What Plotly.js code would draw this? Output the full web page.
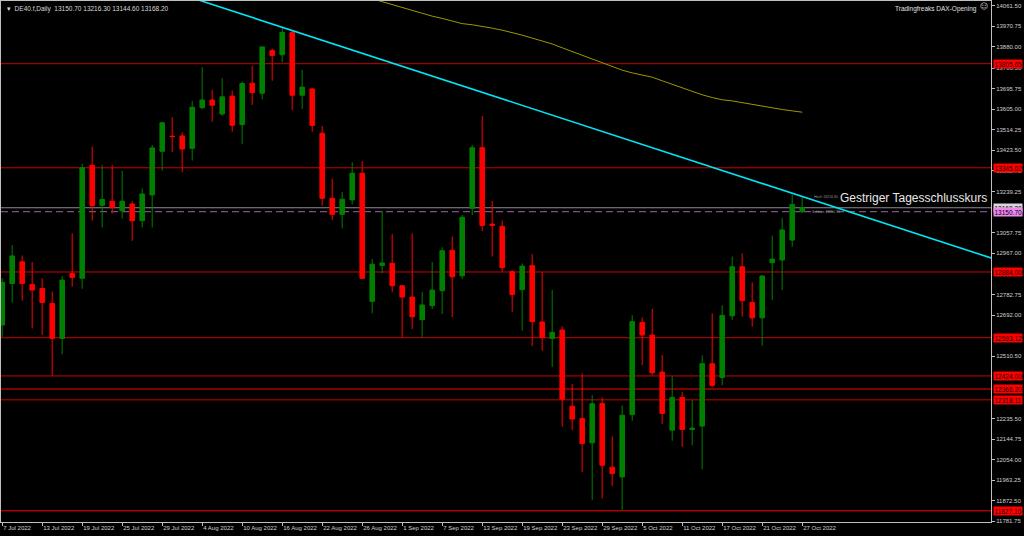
<!DOCTYPE html>
<html>
<head>
<meta charset="utf-8">
<script src="https://cdn.plot.ly/plotly-3.0.1.min.js"></script>
<style>html,body{margin:0;padding:0;background:#000;}#chart{width:1024px;height:536px;}</style>
</head>
<body>
<div id="chart"></div>
<script>
// ---- data (DE40.f, Daily) ----
const barIndex = Array.from({length: 81}, (_, i) => i);
const openP  = [12649,12833,12929,12829,12811,12745,12590,12878,12856,13356,13179,13197,13155,13185,13111,13225,13418,13485,13486,13431,13611,13645,13583,13662,13536,13719,13675,13864,13845,13944,13666,13694,13498,13210,13139,13203,13321,12754,12913,12922,12823,12773,12673,12735,12801,12980,12867,13166,13434,13096,13086,12885,12806,12912,12663,12590,12627,12290,12236,12128,12302,12020,11977,12253,12661,12605,12441,12184,12329,12187,12202,12478,12417,12690,12907,12749,12681,12925,12937,13025,13150.70];
const highP  = [12856,13003,12957,12928,12856,12797,12866,13055,13362,13439,13358,13358,13331,13198,13254,13446,13549,13569,13502,13641,13790,13690,13741,13687,13727,13796,13880,13873,13967,13951,13778,13699,13530,13297,13238,13369,13375,12941,13154,13051,12826,13055,12795,12928,12993,13040,13136,13446,13575,13198,13112,12893,12922,12963,12885,12804,12644,12389,12435,12339,12329,12157,12293,12693,12683,12721,12516,12423,12354,12317,12515,12701,12737,12952,12966,12838,12870,13045,13124,13225,13216.30];
const lowP   = [12597,12748,12757,12634,12605,12425,12520,12819,12810,13111,13081,13143,13120,13022,13081,13081,13332,13414,13325,13377,13604,13549,13576,13505,13449,13623,13648,13730,13811,13600,13606,13504,13177,13114,13077,13183,12853,12701,12878,12794,12594,12631,12594,12720,12698,12684,12853,13136,13065,12952,12885,12708,12624,12556,12535,12464,12199,12184,11999,11874,11881,11937,11830,12225,12472,12427,12212,12137,12110,12117,12010,12373,12383,12671,12686,12642,12557,12760,12804,12996,13144.60];
const closeP = [12838,12955,12833,12804,12749,12590,12848,12860,13346,13177,13205,13170,13197,13111,13229,13433,13544,13483,13428,13613,13645,13622,13659,13533,13718,13678,13880,13842,13944,13666,13702,13532,13210,13139,13206,13321,12856,12918,12924,12823,12773,12686,12738,12804,12978,12863,13126,13434,13090,13090,12903,12784,12910,12664,12594,12616,12321,12233,12125,12301,12029,11992,12250,12664,12605,12438,12258,12329,12187,12193,12478,12382,12692,12907,12757,12681,12866,12941,13070,13183,13168.20];

const tickLabels = ["7 Jul 2022","13 Jul 2022","19 Jul 2022","25 Jul 2022","29 Jul 2022","4 Aug 2022","10 Aug 2022","16 Aug 2022","22 Aug 2022","26 Aug 2022","1 Sep 2022","7 Sep 2022","13 Sep 2022","19 Sep 2022","23 Sep 2022","29 Sep 2022","5 Oct 2022","11 Oct 2022","17 Oct 2022","21 Oct 2022","27 Oct 2022"];
const tickBars = tickLabels.map((_, i) => i * 4);

// price scale labels visible in the reference (those fully hidden under level boxes are omitted)
const priceTicks = [14061.50,13970.75,13880.00,13786.50,13695.75,13605.00,13514.25,13423.50,13332.75,13239.25,13057.75,12967.00,12782.75,12692.00,12510.50,12235.50,12144.75,12054.00,11963.25,11872.50,11781.75];

// horizontal support / resistance levels
const levelValues = [13805.65,13345.02,12884.00,12593.12,12424.00,12366.20,12318.11,11827.10];
const levelBright = [false,false,false,false,false,true,false,true];

const bidPrice = 13168.20;
const prevClose = 13150.70;

// moving average (olive line), bars 37..80
const maStart = 37;
const maValues = [14093,14080,14067,14054,14042,14029,14016,14006,13993,13983,13978,13972,13963,13954,13944,13932,13919,13907,13893,13876,13860,13844,13828,13812,13794,13777,13765,13755,13746,13730,13714,13699,13682,13668,13656,13646,13641,13633,13625,13616,13609,13603,13597,13591];

// down trend line anchors (bar, price)
const trendBars = [28, 80];
const trendPrices = [13967, 13218];

const headerText = "DE40.f,Daily  13150.70 13216.30 13144.60 13168.20";
const noteText = "Gestriger Tagesschlusskurs";
const brandText = "Tradingfreaks DAX-Opening";

// ---- build ----
const xRange = [-0.12, 98.88];
const yRange = [11777.6, 14083.1];
const slope = (trendPrices[1] - trendPrices[0]) / (trendBars[1] - trendBars[0]);
const trendX = [xRange[0], xRange[1]];
const trendY = trendX.map(x => trendPrices[0] + slope * (x - trendBars[0]));

const FONT = "Liberation Sans, Arial, sans-serif";

const traces = [
  {
    type: 'scatter', mode: 'lines',
    x: maValues.map((_, i) => maStart + i), y: maValues,
    line: {color: '#9a9a00', width: 1}, hoverinfo: 'skip', showlegend: false
  },
  {
    type: 'scatter', mode: 'lines', x: trendX, y: trendY,
    line: {color: '#00e5f5', width: 1.6}, hoverinfo: 'skip', showlegend: false
  },
  {
    type: 'candlestick', x: barIndex, open: openP, high: highP, low: lowP, close: closeP,
    increasing: {line: {color: '#008000', width: 1}, fillcolor: '#008000'},
    decreasing: {line: {color: '#ff0000', width: 1}, fillcolor: '#ff0000'},
    whiskerwidth: 0, hoverinfo: 'skip', showlegend: false
  }
];

const shapes = [];
levelValues.forEach((v, i) => {
  shapes.push({type: 'line', xref: 'paper', x0: 0, x1: 1, yref: 'y', y0: v, y1: v,
    line: {color: levelBright[i] ? '#ff0000' : '#cc0000', width: 1}, layer: 'below'});
});
shapes.push({type: 'line', xref: 'paper', x0: 0, x1: 1, yref: 'y', y0: bidPrice, y1: bidPrice,
  line: {color: '#8c8c8c', width: 1}, layer: 'below'});
shapes.push({type: 'line', xref: 'paper', x0: 0, x1: 1, yref: 'y', y0: prevClose, y1: prevClose,
  line: {color: '#a060b0', width: 1, dash: '7px,4px'}, layer: 'below'});

const annotations = [];
function priceBox(v, bg, fg) {
  annotations.push({xref: 'paper', x: 1, xanchor: 'left', xshift: 2, yref: 'y', y: v, yanchor: 'middle',
    text: v.toFixed(2), showarrow: false, bgcolor: bg, borderpad: 0.5,
    font: {family: FONT, size: 6.5, color: fg}});
}
levelValues.forEach(v => priceBox(v, '#ff0000', '#200000'));
priceBox(bidPrice, '#d8d8d8', '#000000');
priceBox(prevClose, '#ee88ee', '#000000');

annotations.push({xref: 'paper', yref: 'paper', x: 0.004, y: 0.997, xanchor: 'left', yanchor: 'top',
  text: '\u25BE  ' + headerText, showarrow: false, font: {family: FONT, size: 6.5, color: '#d8d8d8'}});
annotations.push({xref: 'paper', yref: 'paper', x: 1, xshift: -12, y: 0.997, xanchor: 'right', yanchor: 'top',
  text: brandText, showarrow: false, font: {family: FONT, size: 6.5, color: '#e0e0e0'}});
annotations.push({xref: 'paper', yref: 'paper', x: 1, xshift: -1, y: 1, yshift: 1, xanchor: 'right', yanchor: 'top',
  text: '\u263A', showarrow: false, font: {family: 'DejaVu Sans', size: 8, color: '#d0d0d0'}});
annotations.push({xref: 'x', yref: 'y', x: 83.6, y: 13211, xanchor: 'left', yanchor: 'middle',
  text: noteText, showarrow: false, font: {family: FONT, size: 12, color: '#e8e8e8'}});
annotations.push({xref: 'x', yref: 'y', x: 81.0, y: 13216.3, xanchor: 'left', yanchor: 'middle',
  text: 'Hoch 13216.30', showarrow: false, font: {family: FONT, size: 3.5, color: '#9a9a9a'}});
annotations.push({xref: 'x', yref: 'y', x: 80.8, y: 13150.7, xanchor: 'left', yanchor: 'middle',
  text: 'Schluss 13150.70', showarrow: false, font: {family: FONT, size: 3.5, color: '#9a9a9a'}});

const layout = {
  width: 1024, height: 536,
  margin: {l: 1, r: 33, t: 1, b: 14, pad: 0},
  paper_bgcolor: '#000000', plot_bgcolor: '#000000',
  showlegend: false, boxgap: 0.35,
  xaxis: {
    range: xRange, rangeslider: {visible: false}, showgrid: false, zeroline: false,
    tickmode: 'array', tickvals: tickBars, ticktext: tickLabels, tickangle: 0,
    ticks: 'outside', ticklen: 3, tickcolor: '#c0c0c0', tickwidth: 1,
    ticklabelposition: 'outside right', ticklabelstandoff: 0,
    tickfont: {family: FONT, size: 6, color: '#d0d0d0'},
    showline: true, mirror: true, linecolor: '#c0c0c0', linewidth: 1, fixedrange: true
  },
  yaxis: {
    range: yRange, side: 'right', showgrid: false, zeroline: false,
    tickmode: 'array', tickvals: priceTicks, ticktext: priceTicks.map(v => v.toFixed(2)),
    ticks: 'outside', ticklen: 3, tickcolor: '#c0c0c0', tickwidth: 1,
    tickfont: {family: FONT, size: 6, color: '#d0d0d0'},
    showline: true, mirror: true, linecolor: '#c0c0c0', linewidth: 1, fixedrange: true
  },
  shapes: shapes,
  annotations: annotations
};

Plotly.newPlot('chart', traces, layout, {displayModeBar: false, staticPlot: true});
</script>
</body>
</html>
